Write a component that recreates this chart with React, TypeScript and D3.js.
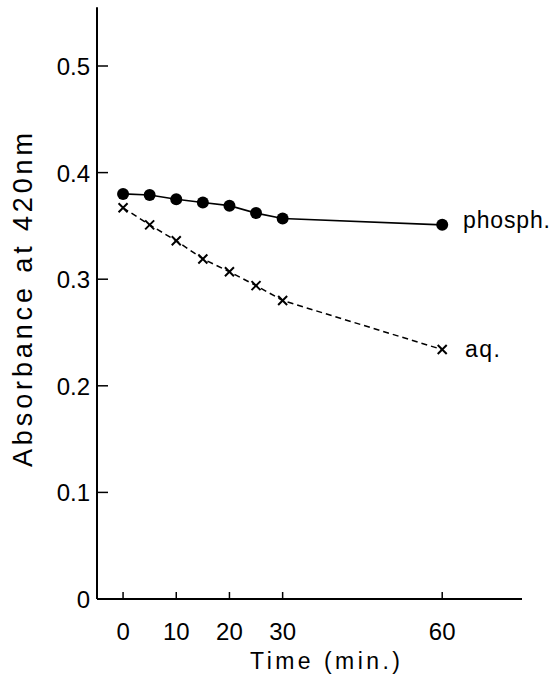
import React, { useEffect, useRef } from "react";
import * as d3 from "d3";

const times = [0, 5, 10, 15, 20, 25, 30, 60];
const phosph = [0.38, 0.379, 0.375, 0.372, 0.369, 0.362, 0.357, 0.351];
const aq = [0.367, 0.351, 0.336, 0.319, 0.307, 0.294, 0.28, 0.234];
const xTicks = [0, 10, 20, 30, 60];
const yTicks = [0, 0.1, 0.2, 0.3, 0.4, 0.5];
const yTickLabels = ["0", "0.1", "0.2", "0.3", "0.4", "0.5"];

const App = () => {
  const svgRef = useRef<SVGSVGElement>(null);

  useEffect(() => {
    const width = 554;
    const height = 676;
    const font = "'Liberation Sans', Arial, sans-serif";

    const svg = d3.select(svgRef.current);
    svg.selectAll("*").remove();
    svg.attr("width", width).attr("height", height);

    const x = d3.scaleLinear().domain([-4.9, 75]).range([97, 522]);
    const y = d3.scaleLinear().domain([0, 0.5]).range([599, 66]);

    // axes
    svg
      .append("line")
      .attr("x1", x(-4.9))
      .attr("x2", x(-4.9))
      .attr("y1", y(0))
      .attr("y2", y(0.555))
      .attr("stroke", "#000")
      .attr("stroke-width", 2);

    svg
      .append("line")
      .attr("x1", x(-4.9))
      .attr("x2", x(75))
      .attr("y1", y(0))
      .attr("y2", y(0))
      .attr("stroke", "#000")
      .attr("stroke-width", 2);

    const yt = svg.append("g");
    yTicks.forEach((t, i) => {
      yt.append("line")
        .attr("x1", x(-4.9))
        .attr("x2", x(-4.9) + 11)
        .attr("y1", y(t))
        .attr("y2", y(t))
        .attr("stroke", "#000")
        .attr("stroke-width", 1.5);
      yt.append("text")
        .attr("x", x(-4.9) - 7)
        .attr("y", y(t) + 9)
        .attr("text-anchor", "end")
        .style("font-family", font)
        .style("font-size", "24px")
        .text(yTickLabels[i]);
    });

    const xt = svg.append("g");
    xTicks.forEach((t) => {
      xt.append("line")
        .attr("x1", x(t))
        .attr("x2", x(t))
        .attr("y1", y(0))
        .attr("y2", y(0) - 7)
        .attr("stroke", "#000")
        .attr("stroke-width", 1.5);
      xt.append("text")
        .attr("x", x(t))
        .attr("y", y(0) + 41)
        .attr("text-anchor", "middle")
        .style("font-family", font)
        .style("font-size", "24px")
        .text(t);
    });

    svg
      .append("text")
      .attr("x", 250)
      .attr("y", 669)
      .attr("textLength", 150)
      .attr("lengthAdjust", "spacing")
      .style("font-family", font)
      .style("font-size", "23px")
      .text("Time  (min.)");

    svg
      .append("text")
      .attr("transform", `translate(32,467) rotate(-90)`)
      .attr("textLength", 334)
      .attr("lengthAdjust", "spacing")
      .style("font-family", font)
      .style("font-size", "27px")
      .text("Absorbance at  420nm");

    // series
    const line = d3
      .line<number>()
      .x((d, i) => x(times[i]))
      .y((d) => y(d));

    svg
      .append("path")
      .datum(phosph)
      .attr("fill", "none")
      .attr("stroke", "#000")
      .attr("stroke-width", 1.6)
      .attr("d", line);

    svg
      .append("path")
      .datum(aq)
      .attr("fill", "none")
      .attr("stroke", "#000")
      .attr("stroke-width", 1.5)
      .attr("stroke-dasharray", "6,4")
      .attr("d", line);

    svg
      .selectAll(".dot")
      .data(phosph)
      .enter()
      .append("circle")
      .attr("cx", (d, i) => x(times[i]))
      .attr("cy", (d) => y(d))
      .attr("r", 6)
      .attr("fill", "#000");

    const s = 4.5;
    svg
      .selectAll(".cross")
      .data(aq)
      .enter()
      .append("path")
      .attr("d", (d, i) => {
        const cx = x(times[i]);
        const cy = y(d);
        return `M${cx - s},${cy - s}L${cx + s},${cy + s}M${cx - s},${cy + s}L${cx + s},${cy - s}`;
      })
      .attr("stroke", "#000")
      .attr("stroke-width", 2)
      .attr("fill", "none");

    svg
      .append("text")
      .attr("x", 463)
      .attr("y", y(phosph[7]) + 3)
      .attr("textLength", 87)
      .attr("lengthAdjust", "spacing")
      .style("font-family", font)
      .style("font-size", "23px")
      .text("phosph.");

    svg
      .append("text")
      .attr("x", 465)
      .attr("y", y(aq[7]) + 7)
      .attr("textLength", 35)
      .attr("lengthAdjust", "spacing")
      .style("font-family", font)
      .style("font-size", "23px")
      .text("aq.");
  }, []);

  return (
    <svg
      ref={svgRef}
      style={{ position: "absolute", left: 0, top: 0, background: "#fff" }}
    ></svg>
  );
};

export default App;
